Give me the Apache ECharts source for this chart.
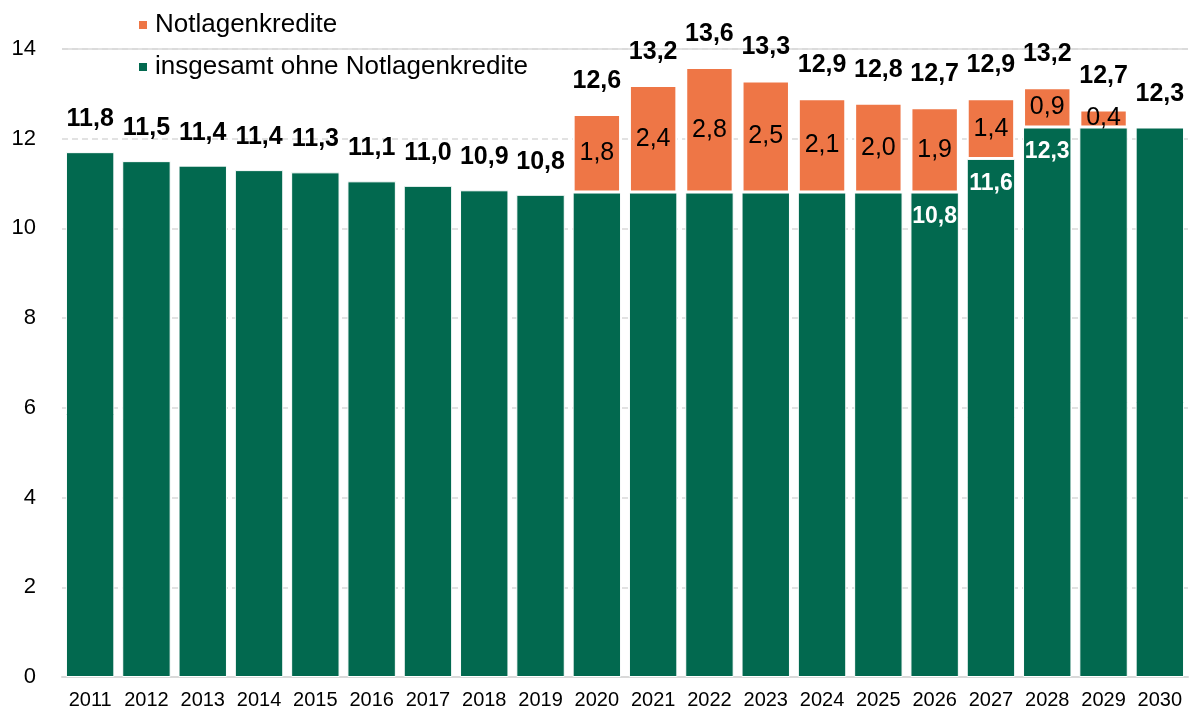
<!DOCTYPE html>
<html>
<head>
<meta charset="utf-8">
<script src="https://cdn.jsdelivr.net/npm/echarts@6/dist/echarts.min.js"></script>
<style>html,body{margin:0;padding:0;background:#fff}#c{width:1195px;height:711px}</style>
</head>
<body>
<div id="c"></div>
<script>
const years = ['2011','2012','2013','2014','2015','2016','2017','2018','2019','2020','2021','2022','2023','2024','2025','2026','2027','2028','2029','2030'];
const ohneNotlagen = [11.7,11.5,11.4,11.3,11.25,11.05,10.95,10.85,10.75,10.8,10.8,10.8,10.8,10.8,10.8,10.8,11.55,12.25,12.25,12.25];
const notlagen = [null,null,null,null,null,null,null,null,null,1.75,2.4,2.8,2.5,2.1,2.0,1.9,1.35,0.9,0.4,null];
const totalLabels = ['11,8','11,5','11,4','11,4','11,3','11,1','11,0','10,9','10,8','12,6','13,2','13,6','13,3','12,9','12,8','12,7','12,9','13,2','12,7','12,3'];
const notlagenLabels = ['','','','','','','','','','1,8','2,4','2,8','2,5','2,1','2,0','1,9','1,4','0,9','0,4',''];
const ohneLabels = ['','','','','','','','','','','','','','','','10,8','11,6','12,3','',''];
const yTicks = [0,2,4,6,8,10,12,14];

const totals = ohneNotlagen.map((v,i)=> +(v + (notlagen[i]||0)).toFixed(2));
const GREEN = '#02694f', ORANGE = '#ee7646';
const FONT = 'Liberation Sans, Arial, sans-serif';

const chart = echarts.init(document.getElementById('c'));
chart.setOption({
  animation:false,
  textStyle:{fontFamily:FONT},
  legend:{
    orient:'vertical', left:137, top:12, padding:0, itemWidth:10, itemHeight:10, itemGap:16, icon:'rect',
    textStyle:{fontSize:26, color:'#000', fontFamily:FONT, padding:[0,0,0,2]},
    data:['Notlagenkredite','insgesamt ohne Notlagenkredite']
  },
  grid:{left:62, right:7, top:49, bottom:34},
  xAxis:{
    type:'category', data:years,
    axisLine:{lineStyle:{color:'#d9d9d9', width:2}},
    axisTick:{show:false},
    axisLabel:{fontSize:20, color:'#000', margin:13, interval:0, fontFamily:FONT}
  },
  yAxis:{
    type:'value', min:0, max:14, interval:2,
    axisLabel:{fontSize:22, color:'#000', margin:26, fontFamily:FONT,
      formatter:v=>String(yTicks[yTicks.indexOf(v)])},
    axisLine:{show:false}, axisTick:{show:false},
    splitLine:{lineStyle:{color:'#d9d9d9', type:[6,4], width:1.5}}
  },
  series:[
    {
      name:'insgesamt ohne Notlagenkredite', type:'bar', stack:'a', data:ohneNotlagen,
      barCategoryGap:'14%',
      itemStyle:{color:GREEN, borderColor:'#fff', borderWidth:1},
      label:{show:true, position:'insideTop', distance:13, color:'#fff', fontWeight:'bold', fontSize:23,
        fontFamily:'Liberation Sans Narrow, Arial Narrow, Liberation Sans, Arial',
        formatter:p=>ohneLabels[p.dataIndex]},
      markLine:{silent:true, symbol:'none', label:{show:false},
        lineStyle:{color:'#d9d9d9', type:'solid', width:1.5}, data:[{yAxis:14}]}
    },
    {
      name:'Notlagenkredite', type:'bar', stack:'a', data:notlagen,
      itemStyle:{color:ORANGE, borderColor:'#fff', borderWidth:2},
      label:{show:true, position:'inside', color:'#000', fontSize:25, fontFamily:FONT,
        formatter:p=>notlagenLabels[p.dataIndex]}
    },
    {
      name:'total', type:'scatter', data:totals, symbolSize:1,
      itemStyle:{color:'rgba(0,0,0,0)', opacity:1}, silent:true, z:5,
      label:{show:true, position:'top', distance:20, color:'#000', fontWeight:'bold', fontSize:25,
        fontFamily:FONT, formatter:p=>totalLabels[p.dataIndex]}
    }
  ]
});
</script>
</body>
</html>
